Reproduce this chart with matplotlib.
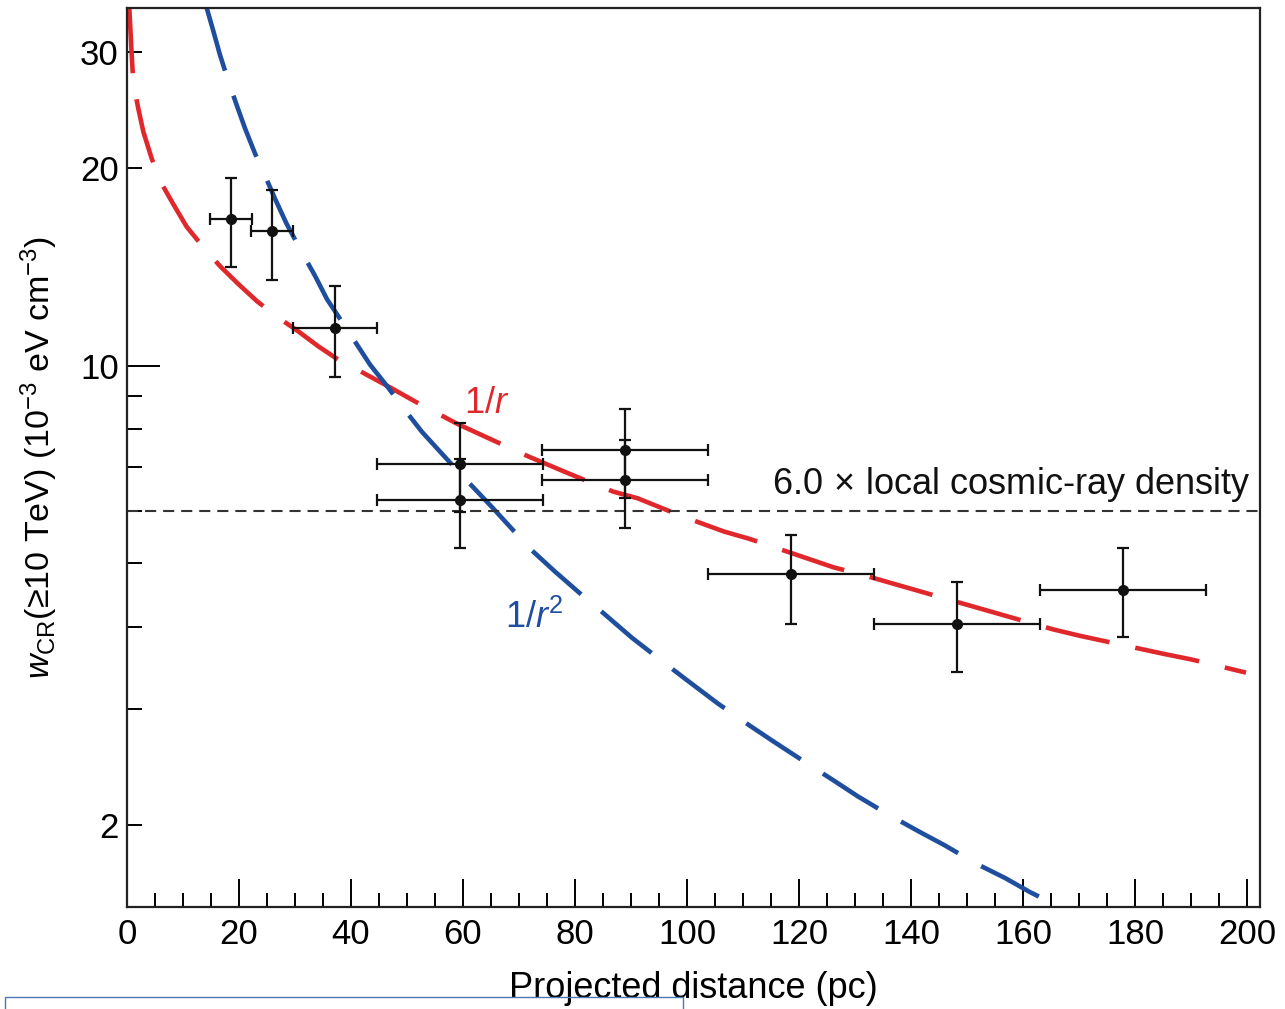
import matplotlib
matplotlib.use("Agg")
import matplotlib.pyplot as plt
from matplotlib.patches import Rectangle
from matplotlib.ticker import FixedLocator, FixedFormatter
import numpy as np

# measured points (projected distance in pc, w_CR in 1e-3 eV cm^-3)
dist = [18.5, 25.9, 37.1, 59.5, 59.5, 88.9, 88.9, 118.6, 148.2, 177.9]
dist_err = [3.75, 3.75, 7.5, 14.8, 14.8, 14.8, 14.8, 14.8, 14.8, 14.8]
w_cr = [16.7, 16.0, 11.4, 7.08, 6.24, 7.44, 6.69, 4.81, 4.05, 4.56]
w_hi = [19.3, 18.5, 13.2, 8.19, 7.21, 8.59, 7.71, 5.53, 4.68, 5.28]
w_lo = [14.1, 13.5, 9.62, 5.98, 5.27, 6.28, 5.65, 4.05, 3.42, 3.86]

# 1/r profile
r1_x = [0.41, 0.84, 1.13, 2.02, 2.91, 4.41, 6.20, 8.27, 10.66, 13.6, 16.6, 19.9,
        23.2, 26.7, 30.6, 34.2, 37.7, 39.5, 43.4, 47.0, 51.4, 59.0, 67.2, 71.7,
        79.25, 86.8, 91.2, 99.05, 106.6, 111.1, 126.2, 130.7, 146.1, 150.6,
        165.25, 170.1, 185.2, 190.1, 199.8]
r1_y = [35.0, 29.7, 26.9, 24.6, 22.7, 20.65, 18.9, 17.6, 16.26, 15.15, 14.17, 13.30,
        12.53, 11.88, 11.27, 10.69, 10.21, 10.03, 9.62, 9.26, 8.82, 8.15, 7.57, 7.27,
        6.83, 6.43, 6.28, 5.90, 5.59, 5.45, 4.93, 4.82, 4.42, 4.31,
        3.97, 3.88, 3.64, 3.57, 3.41]

# 1/r^2 profile
r2_x = [14.23, 15.41, 16.6, 18.09, 19.59, 21.07, 22.86, 24.64, 26.43, 28.5, 31.0,
        33.6, 35.7, 38.2, 40.7, 43.4, 46.5, 49.6, 52.7, 59.0, 65.4, 72.0, 76.4,
        80.9, 84.5, 90.2, 96.1, 100.0, 105.5, 111.25, 115.4, 120.2, 126.4, 130.5,
        136.1, 141.6, 146.1, 151.4, 156.8, 161.25, 166.6]
r2_y = [35.0, 32.3, 29.7, 27.1, 24.9, 22.96, 21.02, 19.45, 17.94, 16.43, 14.99,
        13.68, 12.62, 11.72, 10.88, 10.03, 9.29, 8.56, 7.92, 6.92, 6.06, 5.26, 4.86,
        4.50, 4.24, 3.85, 3.52, 3.32, 3.06, 2.83, 2.68, 2.52, 2.33, 2.21,
        2.07, 1.95, 1.86, 1.75, 1.66, 1.58, 1.50]

local_level = 6.0

plt.rcParams['font.family'] = ['Liberation Sans', 'DejaVu Sans']
plt.rcParams['mathtext.fontset'] = 'custom'
plt.rcParams['mathtext.rm'] = 'Liberation Sans'
plt.rcParams['mathtext.it'] = 'Liberation Sans:italic'
plt.rcParams['mathtext.bf'] = 'Liberation Sans:bold'
plt.rcParams['lines.scale_dashes'] = False

fig = plt.figure(figsize=(12.85, 10.09), dpi=100)
ax = fig.add_axes([127 / 1285, 1 - 907 / 1009, (1260 - 127) / 1285, (907 - 8) / 1009])

red = '#e0282c'
blue = '#1f4e9e'

ax.plot(r1_x, r1_y, color=red, lw=3.3, dashes=(47, 19), dash_capstyle='butt')
ax.plot(r2_x, r2_y, color=blue, lw=3.3, dashes=(47, 19), dash_capstyle='butt')
ax.axhline(local_level, color='#333333', lw=1.5, dashes=(8, 5))

yerr = [np.array(w_cr) - np.array(w_lo), np.array(w_hi) - np.array(w_cr)]
ax.errorbar(dist, w_cr, xerr=dist_err, yerr=yerr, fmt='o', color='#111111',
            ms=7, elinewidth=1.6, capsize=4, capthick=1.6, zorder=5)

ax.set_yscale('log')
ax.set_xlim(0, 202.3)
ax.set_ylim(1.5, 35)

ax.xaxis.set_major_locator(FixedLocator(np.arange(0, 201, 20)))
ax.xaxis.set_minor_locator(FixedLocator(np.arange(0, 201, 5)))
ax.yaxis.set_major_locator(FixedLocator([10]))
ax.yaxis.set_major_formatter(FixedFormatter(['10']))
ax.yaxis.set_minor_locator(FixedLocator([2, 3, 4, 5, 6, 7, 8, 9, 20, 30]))
ax.yaxis.set_minor_formatter(FixedFormatter(['2', '', '', '', '', '', '', '', '20', '30']))

ax.tick_params(axis='x', which='major', direction='in', length=20, width=1.4,
               labelsize=25, pad=8)
ax.tick_params(axis='x', which='minor', direction='in', length=10, width=1.4)
ax.tick_params(axis='y', which='major', direction='in', length=24, width=1.4,
               labelsize=25, pad=6)
ax.tick_params(axis='y', which='minor', direction='in', length=11, width=1.4,
               labelsize=25, pad=6)
for s in ax.spines.values():
    s.set_linewidth(1.6)
    s.set_color('#222222')

ax.set_xlabel('Projected distance (pc)', fontsize=26, labelpad=14)
ax.set_ylabel(r'$\mathit{w}_{\mathrm{CR}}$(≥10 TeV) (10$^{-3}$ eV cm$^{-3}$)',
              fontsize=24.5, labelpad=14)

ax.text(200.6, 6.37, r'6.0$\,\times\,$local cosmic-ray density', fontsize=26,
        ha='right', va='baseline', color='#111111')
ax.text(64.3, 8.75, r'1/$r$', fontsize=26, color=red, ha='center', va='center')
ax.text(72.7, 4.13, r'1/$r^2$', fontsize=26, color=blue, ha='center', va='center')

# thin blue frame at the lower-left edge of the source image
fig.patches.append(Rectangle((5 / 1285, -0.02), 678 / 1285, 12 / 1009 + 0.02,
                             transform=fig.transFigure, fill=False,
                             edgecolor='#4a78b0', lw=1.0, zorder=0))

fig.savefig('out.png', dpi=100)
